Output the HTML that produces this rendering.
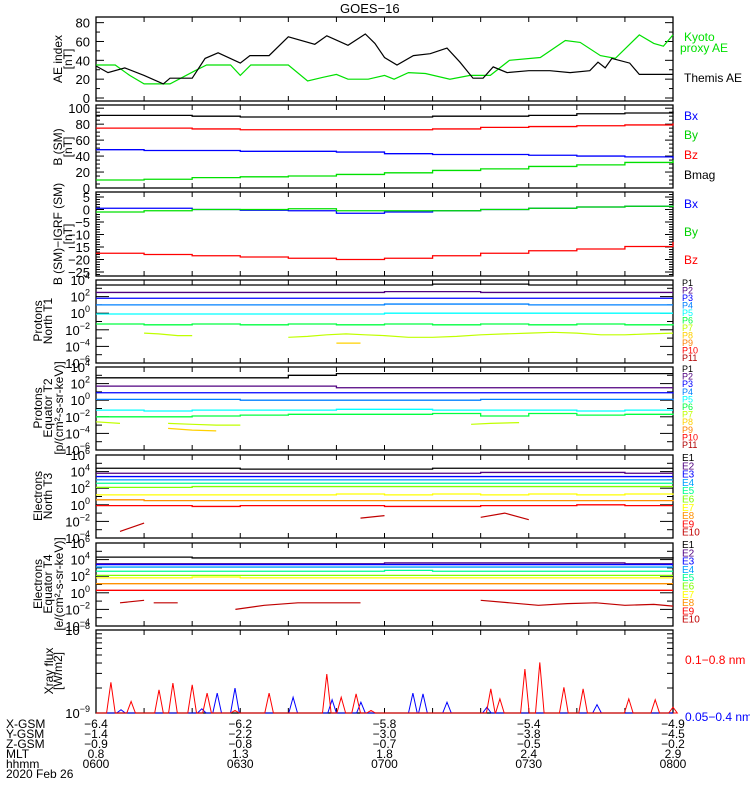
<!DOCTYPE html>
<html><head><meta charset="utf-8">
<style>
html,body{margin:0;padding:0;background:#fff;width:750px;height:800px;overflow:hidden}
svg{display:block;font-family:"Liberation Sans",sans-serif}
</style></head>
<body>
<svg id="chart" width="750" height="800" viewBox="0 0 750 800" xmlns="http://www.w3.org/2000/svg">
<rect x="0" y="0" width="750" height="800" fill="#fff"/>
<text x="340" y="13" font-size="13">GOES−16</text>
<g id="layer"></g>
</svg>
<script>
// ---------- data ----------
const stepTimes = [0,10,20,30,40,50,60,70,80,90,100,110,120];
const aeThemisTimes = [0,2.5,6,10,14,15.4,20,22.7,25.4,30,32,36,40,45.5,48,52.4,56,58,60,62.6,66,69.5,73,75.7,78.4,80.5,82.6,85.5,90,94.4,98.6,102.7,104.4,105.9,107.3,111,113,120];
const aeThemis = [34,27,32,24,15,21,21,42,48,37,45,45,65,57,66,56,68,58,43,35,45,47,53,38,21,21,33,27,29,29,27,29,38,32,42,37,25,25];
const aeKyotoTimes = [0,4,7,10,15.4,20.6,23,28,30,32.2,40,44,47.2,50,52.4,56.6,60,62,65,68.5,73.6,77.8,82,86,92.4,97.6,100.7,104.9,108,113,116,118,120];
const aeKyoto = [35,35,24,15,15,29,35,35,24,35,35,18,22,25,20,20,24,20,27,26,20,24,24,40,43,61,59,45,42,67,58,55,67];
const bBmag = [91,91,90,89,89,89,89,90,90,91,93,94,96];
const bBz = [75,75,74,73,73,73,73,74,76,77,78,79,81];
const bBx = [48,47,47,46,46,45,43,42,42,41,40,39,37];
const bBy = [10,11,13,14,15,17,19,22,24,27,29,32,35];
const dBx = [0.5,0.5,0,-0.3,-0.5,-1.5,-1,-0.5,0,0.5,1,1.3,1.3];
const dBy = [-1,-0.5,0,0,0.3,-0.5,-0.5,-0.5,0,0.5,1,1.3,1];
const dBz = [-17.5,-18,-18.5,-19,-19.5,-20,-19.5,-18.5,-17.5,-16.5,-15.8,-14.8,-13];
// protons T1 (log10)
const pT1 = [
 [3.4,3.4,3.4,3.4,3.4,3.4,3.4,3.5,3.5,3.4,3.4,3.4,3.4],
 [2.5,2.5,2.5,2.5,2.5,2.5,2.6,2.6,2.5,2.5,2.5,2.5,2.5],
 [1.8,1.8,1.8,1.8,1.8,1.8,1.8,1.8,1.8,1.8,1.8,1.8,1.8],
 [1.0,1.0,1.0,1.0,1.0,1.0,1.1,1.1,1.1,1.0,1.0,1.0,1.0],
 [-0.1,-0.1,-0.1,-0.1,-0.1,-0.1,0,0,0,0,0,0,0],
 [-1.3,-1.4,-1.3,-1.4,-1.3,-1.4,-1.3,-1.4,-1.3,-1.4,-1.3,-1.4,-1.3]
];
const pT1ygTimes = [10,13,17,20,null,40,44,48,52,56,60,65,70,75,80,85,90,95,100,105,110,115,120];
const pT1yg = [-2.4,-2.5,-2.7,-2.7,null,-2.9,-2.8,-2.6,-2.5,-2.6,-2.7,-2.9,-2.9,-2.8,-2.6,-2.5,-2.4,-2.3,-2.4,-2.6,-2.6,-2.5,-2.4];
const pT1goldTimes = [50,55];
const pT1gold = [-3.6,-3.6];
// protons T2
const pT2 = [
 [2.7,2.7,2.7,2.7,3.0,3.2,3.2,3.2,3.2,3.2,3.2,3.2,3.2],
 [1.7,1.7,1.7,1.7,1.7,1.5,1.5,1.5,1.5,1.5,1.5,1.5,1.5],
 [0.9,0.9,0.9,0.9,0.9,0.9,0.9,0.9,0.9,0.9,0.9,0.9,0.8],
 [0.1,0.1,0.1,0.0,0.0,0.0,0.0,0.0,0.1,0.1,0.1,0.1,0.0],
 [-1.2,-1.3,-1.2,-1.2,-1.2,-1.1,-1.1,-1.2,-1.2,-1.2,-1.3,-1.2,-1.2],
 [-2.0,-2.0,-1.9,-1.8,-1.7,-1.7,-1.7,-1.6,-1.9,-1.6,-1.8,-1.7,-1.6]
];
const pT2ygTimes = [0,5,null,15,20,25,30,null,78,82,88];
const pT2yg = [-2.6,-2.8,null,-2.8,-2.9,-3.0,-3.0,null,-2.9,-2.8,-2.7];
const pT2goldTimes = [15,20,25];
const pT2gold = [-3.4,-3.6,-3.7];
// electrons T3
const eT3 = [
 [4.4,4.4,4.4,4.3,4.3,4.3,4.3,4.4,4.4,4.4,4.4,4.4,4.4],
 [3.8,3.8,3.8,3.8,3.8,3.8,3.8,3.8,3.9,3.9,3.9,3.8,3.8],
 [3.4,3.4,3.4,3.4,3.4,3.4,3.4,3.4,3.4,3.4,3.4,3.4,3.4],
 [3.0,3.0,3.0,3.0,3.0,3.0,3.0,3.0,3.0,3.0,3.0,3.0,3.0],
 [2.6,2.6,2.6,2.6,2.6,2.6,2.6,2.6,2.6,2.6,2.6,2.6,2.6],
 [2.1,2.1,2.2,2.2,2.2,2.2,2.2,2.2,2.2,2.2,2.2,2.2,2.2],
 [1.2,1.2,1.2,1.2,1.2,1.3,1.2,1.3,1.2,1.3,1.2,1.3,1.2],
 [0.6,0.5,0.5,0.5,0.5,0.5,0.5,0.5,0.5,0.5,0.5,0.5,0.6],
 [-0.1,-0.1,-0.2,-0.1,-0.1,-0.1,-0.2,-0.2,-0.1,-0.1,0,-0.1,-0.1]
];
const eT3e10Times = [5,10,null,55,60,null,80,85,90];
const eT3e10 = [-3.2,-2.2,null,-1.6,-1.3,null,-1.5,-1.0,-1.8];
// electrons T4
const eT4 = [
 [4.3,4.3,4.2,4.2,4.2,4.2,4.2,4.2,4.2,4.2,4.2,4.2,4.3],
 [3.5,3.5,3.5,3.5,3.5,3.5,3.6,3.6,3.6,3.6,3.6,3.5,3.5],
 [3.4,3.4,3.4,3.4,3.4,3.4,3.4,3.4,3.4,3.4,3.4,3.4,3.4],
 [3.1,3.1,3.1,3.1,3.1,3.1,3.1,3.1,3.1,3.1,3.1,3.1,3.1],
 [2.6,2.6,2.6,2.6,2.6,2.6,2.7,2.6,2.6,2.6,2.6,2.6,2.6],
 [2.1,2.1,2.1,2.1,2.1,2.1,2.1,2.1,2.1,2.1,2.1,2.1,2.1],
 [1.8,1.8,1.9,1.8,1.8,1.8,1.8,1.8,1.8,1.8,1.8,1.8,1.8],
 [1.1,1.1,1.1,1.1,1.1,1.1,1.1,1.1,1.1,1.1,1.1,1.1,1.1],
 [0.3,0.3,0.3,0.3,0.3,0.3,0.3,0.3,0.3,0.3,0.3,0.3,0.3]
];
const eT4e10Times = [5,10,null,12,17,null,29,35,42,48,55,null,80,86,92,98,104,110,116,120];
const eT4e10 = [-1.2,-0.9,null,-1.2,-1.2,null,-2.0,-1.5,-1.2,-1.2,-1.2,null,-0.9,-1.2,-1.5,-1.3,-1.2,-1.5,-1.4,-1.6];
// x-ray (log10 W/m2) peaks
const xrayLongTimes = [3.1,7.3,13.1,16.0,20.0,23.1,28.9,36.0,48.0,51.0,54.1,57.2,82.1,84.0,89.2,92.3,97.3,101.3,110.8,116.3,120];
const xrayLong = [-8.63,-8.86,-8.72,-8.64,-8.66,-8.76,-8.97,-8.76,-8.53,-8.81,-8.77,-8.97,-8.71,-8.83,-8.47,-8.39,-8.69,-8.71,-8.83,-8.84,-8.93];
const xrayShortTimes = [5.2,22.0,25.2,28.9,41.0,49.1,55.1,65.9,68.0,73.0,81.3,104.2];
const xrayShort = [-8.96,-8.95,-8.76,-8.70,-8.81,-8.84,-8.87,-8.76,-8.77,-8.87,-8.93,-8.90];
// axis labels
const tickXGSM = ['−6.4','−6.2','−5.8','−5.4','−4.9'];
const tickYGSM = ['−1.4','−2.2','−3.0','−3.8','−4.5'];
const tickZGSM = ['−0.9','−0.8','−0.7','−0.5','−0.2'];
const tickMLT = ['0.8','1.3','1.8','2.4','2.9'];
const tickHHMM = ['0600','0630','0700','0730','0800'];
const tickTimes = [0,30,60,90,120];

// ---------- helpers ----------
const NS='http://www.w3.org/2000/svg';
const layer=document.getElementById('layer');
const X0=96, X1=673;
function xs(t){return X0+(t/120)*(X1-X0);}
function mk(tag,attrs,parent){const e=document.createElementNS(NS,tag);for(const k in attrs)e.setAttribute(k,attrs[k]);(parent||layer).appendChild(e);return e;}
function ys(p,v){return p.bot-(v-p.lo)/(p.hi-p.lo)*(p.bot-p.top);}

const panels={
 ae:{top:17,bot:101,lo:-3.2,hi:86},
 b:{top:105,bot:188,lo:0,hi:104},
 d:{top:192,bot:276,lo:-26.6,hi:7},
 p1:{top:280,bot:363,lo:-6,hi:4},
 p2:{top:367,bot:450,lo:-6,hi:4},
 e1:{top:455,bot:538,lo:-4,hi:6},
 e2:{top:543,bot:626,lo:-4,hi:6},
 x:{top:630,bot:713,lo:-9,hi:-8}
};

function frame(p,name){
  const r=mk('rect',{x:X0,y:p.top,width:X1-X0,height:p.bot-p.top,fill:'none',stroke:'#000','stroke-width':1.3});
  
  
  for(let t=0;t<=120;t+=10){
    const x=xs(t);
    mk('line',{x1:x,x2:x,y1:p.top,y2:p.top+5,stroke:'#000'});
    mk('line',{x1:x,x2:x,y1:p.bot,y2:p.bot-5,stroke:'#000'});
  }
}
function yTicks(p,vals,len){
  for(const v of vals){const y=ys(p,v);
    mk('line',{x1:X0,x2:X0+len,y1:y,y2:y,stroke:'#000'});
    mk('line',{x1:X1,x2:X1-len,y1:y,y2:y,stroke:'#000'});}
}
function yLabel(p,v,txt){
  const t=mk('text',{x:90,y:ys(p,v)+5,'font-size':13,'text-anchor':'end'});
  t.textContent=txt;
  
  
}
function yLogLabel(p,v){
  const t=mk('text',{x:90,y:ys(p,v)+5,'font-size':13,'text-anchor':'end'});
  
  
  const a=mk('tspan',{},t);a.textContent='10';
  const b=mk('tspan',{dy:-6,'font-size':9},t);b.textContent=String(v).replace('-','−');
}
function range(a,b,s){const r=[];for(let v=a;v<=b+1e-9;v+=s)r.push(+v.toFixed(4));return r;}
function stepPath(p,times,vals,color,name){
  let d='';
  for(let i=0;i<vals.length;i++){
    if(vals[i]==null)continue;
    const y=ys(p,vals[i]);const x=xs(times[i]);
    const xe=i<vals.length-1?xs(times[i+1]):xs(120);
    if(i>0&&vals[i-1]!=null)d+='L'+x+' '+y; else d+='M'+x+' '+y;
    d+='L'+xe+' '+y;
  }
  const e=mk('path',{d:d,fill:'none',stroke:color,'stroke-width':1.3});
  
  
}
function linePath(p,times,vals,color,name){
  let d='',pen=false;
  for(let i=0;i<vals.length;i++){
    if(vals[i]==null||times[i]==null){pen=false;continue;}
    d+=(pen?'L':'M')+xs(times[i]).toFixed(1)+' '+ys(p,vals[i]).toFixed(1);pen=true;
  }
  const e=mk('path',{d:d,fill:'none',stroke:color,'stroke-width':1.2});
  
  
}
function rotLabel(lines,xs0,yc,name){
  lines.forEach((s,i)=>{
    const t=mk('text',{x:0,y:0,'font-size':12,'text-anchor':'middle',transform:`translate(${xs0[i]},${yc}) rotate(-90)`});
    t.textContent=s;
    
    
  });
}
function legend(x,y,txt,color,name,size){
  const t=mk('text',{x:x,y:y,'font-size':size||12,fill:color});
  t.textContent=txt;
  
  
}

// ---------- panel 1: AE ----------
let P=panels.ae; frame(P,'ae-panel');
yTicks(P,range(0,80,20),8); yTicks(P,range(10,70,20),4);
[0,20,40,60,80].forEach(v=>yLabel(P,v,String(v)));
linePath(P,aeKyotoTimes,aeKyoto,'#00e000','kyoto-ae-line');
linePath(P,aeThemisTimes,aeThemis,'#000','themis-ae-line');
rotLabel(['AE index','[nT]'],[62,72],59,'ae-axis-title');
legend(684,41,'Kyoto','#00e000','legend-kyoto');
legend(680,52,'proxy AE','#00e000','legend-kyoto');
legend(684,82,'Themis AE','#000','legend-themis');

// ---------- panel 2: B SM ----------
P=panels.b; frame(P,'b-sm-panel');
yTicks(P,range(0,100,20),8); yTicks(P,range(5,100,5).filter(v=>v%20),4);
[0,20,40,60,80,100].forEach(v=>yLabel(P,v,String(v)));
stepPath(P,stepTimes,bBmag,'#000','bmag-line');
stepPath(P,stepTimes,bBz,'#ff0000','bz-line');
stepPath(P,stepTimes,bBx,'#0000ff','bx-line');
stepPath(P,stepTimes,bBy,'#00e000','by-line');
rotLabel(['B (SM)','[nT]'],[62,72],147,'b-axis-title');
legend(684,120,'Bx','#0000ff','legend-bx');
legend(684,139,'By','#00d000','legend-by');
legend(684,159,'Bz','#ff0000','legend-bz');
legend(684,179,'Bmag','#000','legend-bmag');

// ---------- panel 3: B - IGRF ----------
P=panels.d; frame(P,'b-igrf-panel');
yTicks(P,range(-25,5,5),8); yTicks(P,range(-26,7,1).filter(v=>v%5),4);
[5,0,-5,-10,-15,-20,-25].forEach(v=>yLabel(P,v,String(v).replace('-','−')));
stepPath(P,stepTimes,dBz,'#ff0000','dbz-line');
stepPath(P,stepTimes,dBx,'#0000ff','dbx-line');
stepPath(P,stepTimes,dBy,'#00e000','dby-line');
rotLabel(['B (SM)−IGRF (SM)','[nT]'],[62,72],234,'b-igrf-axis-title');
legend(684,208,'Bx','#0000ff','legend-dbx');
legend(684,236,'By','#00d000','legend-dby');
legend(684,264,'Bz','#ff0000','legend-dbz');

// ---------- log panels ----------
const pColors=['#000','#500080','#0000ff','#0080ff','#00ffff','#00ff40','#c0ff00','#ffd000','#ff8000','#ff0000','#b00000'];
const eColors=['#000','#500080','#0000ff','#00a0ff','#00ff90','#80ff00','#ffff00','#ff9000','#ff0000','#c00000'];
function logPanel(P,name,labels){
  frame(P,name);
  for(let v=Math.ceil(P.lo);v<=P.hi;v++){
    const major=(((v%2)+2)%2)===0;
    yTicks(P,[v],major?13:6);
  }
  labels.forEach(v=>yLogLabel(P,v));
}
P=panels.p1; logPanel(P,'protons-t1-panel',[4,2,0,-2,-4,-6]);
pT1.forEach((s,i)=>stepPath(P,stepTimes,s,pColors[i],'proton-t1-p'+(i+1)));
linePath(P,pT1ygTimes,pT1yg,pColors[6],'proton-t1-p7');
linePath(P,pT1goldTimes,pT1gold,pColors[7],'proton-t1-p8');
rotLabel(['Protons','North T1'],[42,52],321,'protons-t1-axis-title');
for(let i=0;i<11;i++)legend(682,286+i*7.5,'P'+(i+1),pColors[i],'legend-p'+(i+1),9);

P=panels.p2; logPanel(P,'protons-t2-panel',[4,2,0,-2,-4,-6]);
pT2.forEach((s,i)=>stepPath(P,stepTimes,s,pColors[i],'proton-t2-p'+(i+1)));
linePath(P,pT2ygTimes,pT2yg,pColors[6],'proton-t2-p7');
linePath(P,pT2goldTimes,pT2gold,pColors[7],'proton-t2-p8');
rotLabel(['Protons','Equator T2','[p/(cm²-s-sr-keV)]'],[42,52,63],408,'protons-t2-axis-title');
for(let i=0;i<11;i++)legend(682,372+i*7.6,'P'+(i+1),pColors[i],'legend-p'+(i+1),9);

P=panels.e1; logPanel(P,'electrons-t3-panel',[6,4,2,0,-2,-4]);
eT3.forEach((s,i)=>stepPath(P,stepTimes,s,eColors[i],'electron-t3-e'+(i+1)));
linePath(P,eT3e10Times,eT3e10,eColors[9],'electron-t3-e10');
rotLabel(['Electrons','North T3'],[42,52],496,'electrons-t3-axis-title');
for(let i=0;i<10;i++)legend(682,461+i*8.3,'E'+(i+1),eColors[i],'legend-e'+(i+1),10);

P=panels.e2; logPanel(P,'electrons-t4-panel',[6,4,2,0,-2,-4]);
eT4.forEach((s,i)=>stepPath(P,stepTimes,s,eColors[i],'electron-t4-e'+(i+1)));
linePath(P,eT4e10Times,eT4e10,eColors[9],'electron-t4-e10');
rotLabel(['Electrons','Equator T4','[e/(cm²-s-sr-keV)]'],[42,52,63],584,'electrons-t4-axis-title');
for(let i=0;i<10;i++)legend(682,548+i*8.3,'E'+(i+1),eColors[i],'legend-e'+(i+1),10);

// ---------- x-ray ----------
P=panels.x; frame(P,'xray-panel');
yTicks(P,[-9,-8],13);
for(let m=2;m<10;m++)yTicks(P,[-9+Math.log10(m)],6);
yLogLabel(P,-8); yLogLabel(P,-9);
function spikes(times,vals,color,name){
  let d='M'+X0+' '+P.bot;
  times.forEach((t,i)=>{
    const v=Math.max(vals[i],-9);
    d+='L'+xs(t-0.9).toFixed(1)+' '+P.bot+'L'+xs(t).toFixed(1)+' '+ys(P,v).toFixed(1)+'L'+xs(t+0.9).toFixed(1)+' '+P.bot;
  });
  d+='L'+X1+' '+P.bot;
  const e=mk('path',{d:d,fill:'none',stroke:color,'stroke-width':1});
  
  
}
spikes(xrayShortTimes,xrayShort,'#0000ff','xray-short-line');
spikes(xrayLongTimes,xrayLong,'#ff0000','xray-long-line');
rotLabel(['Xray flux','[W/m2]'],[53,62],671,'xray-axis-title');
legend(685,664,'0.1−0.8 nm','#ff0000','legend-xray-long');
legend(685,721,'0.05−0.4 nm','#0000ff','legend-xray-short');

// ---------- bottom labels ----------
const rowNames=['X-GSM','Y-GSM','Z-GSM','MLT','hhmm'];
const rows=[tickXGSM,tickYGSM,tickZGSM,tickMLT,tickHHMM];
const rowY=[728,738,748,758,768];
rows.forEach((arr,r)=>{
  legend(6,rowY[r],rowNames[r],'#000','row-label-'+rowNames[r].toLowerCase());
  arr.forEach((s,i)=>{
    const t=mk('text',{x:xs(tickTimes[i]),y:rowY[r],'font-size':12,'text-anchor':'middle'});
    t.textContent=s;
    
    
  });
});
legend(6,778,'2020 Feb 26','#000','date-label');
</script>
</body></html>
